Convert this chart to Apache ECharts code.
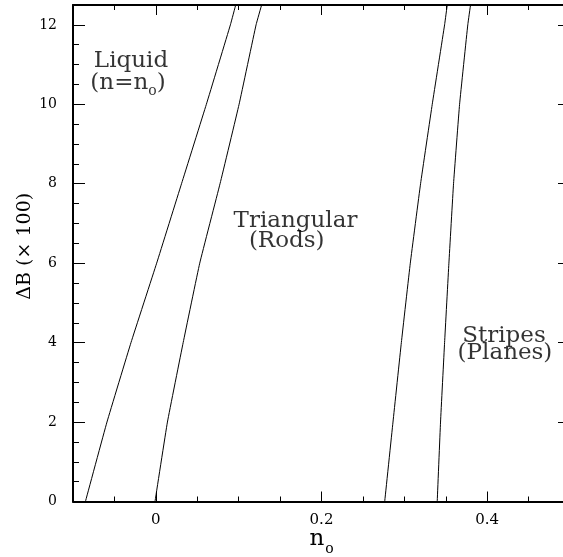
<!DOCTYPE html>
<html>
<head>
<meta charset="utf-8">
<script src="https://cdn.jsdelivr.net/npm/echarts@6/dist/echarts.min.js"></script>
<style>
html,body{margin:0;padding:0;background:#fff;}
#chart{width:563px;height:557px;}
</style>
</head>
<body>
<div id="chart"></div>
<script>
// ---- data ----
var deltaB = [0, 2, 4, 6, 8, 10, 12, 12.5];
var liquidBoundary = [-0.085, -0.059, -0.030, 0.001, 0.031, 0.061, 0.090, 0.0964];
var rodsLowBoundary = [-0.001, 0.014, 0.033, 0.053, 0.0775, 0.1005, 0.121, 0.1277];
var rodsHighBoundary = [0.2763, 0.2863, 0.2964, 0.3072, 0.3196, 0.3337, 0.3486, 0.3518];
var stripesBoundary = [0.3397, 0.3437, 0.3486, 0.3538, 0.3594, 0.3667, 0.3766, 0.3799];
var xTickLabels = [0, 0.2, 0.4];
var yTickLabels = [0, 2, 4, 6, 8, 10, 12];
var annotations = [
  ['Liquid', -0.030, 11.05],
  ['(n=n_o)', -0.0336, 10.51],
  ['Triangular', 0.1686, 7.02],
  ['(Rods)', 0.158, 6.52],
  ['Stripes', 0.4203, 4.13],
  ['(Planes)', 0.4215, 3.71]
];

var FONT = 'DejaVu Serif';

function pairs(xs, ys) {
  return xs.map(function (x, i) { return [x, ys[i]]; });
}
function richLabel(t) {
  if (t.indexOf('_o') >= 0) {
    var parts = t.split('_o');
    return '{m|' + parts[0] + '}{s|o}{m|' + parts[1] + '}';
  }
  return '{m|' + t + '}';
}

var chart = echarts.init(document.getElementById('chart'), null, {renderer: 'canvas'});

var baseX = {
  type: 'value', min: -0.1, max: 0.5, interval: 0.05,
  splitLine: {show: false}
};
var baseY = {
  type: 'value', min: 0, max: 12.5, interval: 0.5,
  splitLine: {show: false}
};

var lineSeries = [liquidBoundary, rodsLowBoundary, rodsHighBoundary, stripesBoundary].map(function (xs) {
  return {
    type: 'line',
    xAxisIndex: 0, yAxisIndex: 0,
    data: pairs(xs, deltaB),
    showSymbol: false,
    symbol: 'none',
    smooth: 0.1,
    lineStyle: {color: '#000', width: 1},
    z: 3,
    silent: true
  };
});

var option = {
  backgroundColor: '#fff',
  animation: false,
  grid: {left: 73, top: 5, width: 497, height: 496.5, containLabel: false, outerBoundsMode: 'none'},
  xAxis: [
    Object.assign({}, baseX, {
      position: 'bottom',
      axisLine: {onZero: false, lineStyle: {color: '#000', width: 2}},
      axisTick: {inside: true, length: 5, lineStyle: {color: '#000', width: 1}},
      axisLabel: {customValues: xTickLabels, color: '#000', fontFamily: FONT, fontSize: 15, margin: 11,
        formatter: function (v) { return String(+v.toFixed(2)); }},
      name: '{m|n}{s|o}',
      nameLocation: 'middle',
      nameGap: 26,
      nameMoveOverlap: false,
      nameTextStyle: {
        color: '#000',
        rich: {
          m: {fontFamily: FONT, fontSize: 23, lineHeight: 26, verticalAlign: 'top', color: '#000'},
          s: {fontFamily: FONT, fontSize: 14, lineHeight: 14, padding: [15, 0, 0, 1], verticalAlign: 'top', color: '#000'}
        }
      }
    }),
    Object.assign({}, baseX, {
      position: 'bottom',
      axisLine: {show: false, onZero: false},
      axisTick: {inside: true, length: 10, customValues: xTickLabels, lineStyle: {color: '#000', width: 1}},
      axisLabel: {show: false}
    }),
    Object.assign({}, baseX, {
      position: 'top',
      axisLine: {onZero: false, lineStyle: {color: '#000', width: 2}},
      axisTick: {inside: true, length: 5, lineStyle: {color: '#000', width: 1}},
      axisLabel: {show: false}
    }),
    Object.assign({}, baseX, {
      position: 'top',
      axisLine: {show: false, onZero: false},
      axisTick: {inside: true, length: 10, customValues: xTickLabels, lineStyle: {color: '#000', width: 1}},
      axisLabel: {show: false}
    })
  ],
  yAxis: [
    Object.assign({}, baseY, {
      position: 'left',
      axisLine: {onZero: false, lineStyle: {color: '#000', width: 2}},
      axisTick: {inside: true, length: 6, lineStyle: {color: '#000', width: 1}},
      axisLabel: {customValues: yTickLabels, color: '#000', fontFamily: FONT, fontSize: 14, margin: 16},
      name: 'ΔB (× 100)',
      nameLocation: 'middle',
      nameGap: 38,
      nameMoveOverlap: false,
      nameTextStyle: {color: '#000', fontFamily: FONT, fontSize: 19, padding: [0, 0, 0, 14]}
    }),
    Object.assign({}, baseY, {
      position: 'left',
      axisLine: {show: false, onZero: false},
      axisTick: {inside: true, length: 12, customValues: yTickLabels, lineStyle: {color: '#000', width: 1}},
      axisLabel: {show: false}
    }),
    Object.assign({}, baseY, {
      position: 'right',
      axisLine: {onZero: false, lineStyle: {color: '#000', width: 2}},
      axisTick: {inside: true, length: 6, lineStyle: {color: '#000', width: 1}},
      axisLabel: {show: false}
    }),
    Object.assign({}, baseY, {
      position: 'right',
      axisLine: {show: false, onZero: false},
      axisTick: {inside: true, length: 12, customValues: yTickLabels, lineStyle: {color: '#000', width: 1}},
      axisLabel: {show: false}
    })
  ],
  series: lineSeries.concat([{
    type: 'scatter',
    xAxisIndex: 0, yAxisIndex: 0,
    symbolSize: 0,
    silent: true,
    data: annotations.map(function (a) { return {value: [a[1], a[2]], name: a[0]}; }),
    label: {
      show: true,
      position: 'inside',
      align: 'center',
      verticalAlign: 'middle',
      formatter: function (p) { return richLabel(p.name); },
      rich: {
        m: {fontFamily: FONT, fontSize: 23, lineHeight: 26, verticalAlign: 'top', color: '#000'},
        s: {fontFamily: FONT, fontSize: 14, lineHeight: 14, padding: [13, 0, 0, 0], verticalAlign: 'top', color: '#000'}
      }
    },
    z: 4
  }])
};

chart.setOption(option);
</script>
</body>
</html>
